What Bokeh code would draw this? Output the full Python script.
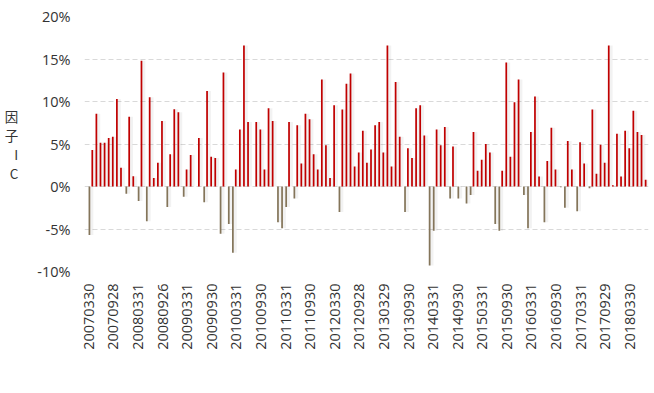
import math
from bokeh.plotting import figure
from bokeh.layouts import column
from bokeh.models import (ColumnDataSource, FixedTicker, PrintfTickFormatter, Range1d,
                          Legend, LegendItem)
from bokeh.embed import file_html
from bokeh.resources import INLINE

# ---- data (monthly IC, in %) ----
tick_labels = ["20070330", "20070928", "20080331", "20080926", "20090331", "20090930",
               "20100331", "20100930", "20110331", "20110930", "20120330", "20120928",
               "20130329", "20130930", "20140331", "20140930", "20150331", "20150930",
               "20160331", "20160930", "20170331", "20170929", "20180330"]

ic = [-5.7, 4.3, 8.55, 5.15, 5.15, 5.7, 5.86, 10.3, 2.2, -0.86,
      8.2, 1.2, -1.7, 14.8, -4.1, 10.5, 1.0, 2.8, 7.7, -2.4,
      3.8, 9.1, 8.75, -1.2, 2.0, 3.7, 0.0, 5.7, -1.84, 11.25,
      3.5, 3.36, -5.55, 13.4, -4.4, -7.8, 2.0, 6.7, 16.6, 7.6,
      0.0, 7.6, 6.7, 2.0, 9.2, 7.7, -4.2, -4.9, -2.4, 7.6,
      -1.4, 7.2, 2.7, 8.55, 7.9, 3.8, 2.0, 12.6, 4.84, 1.0,
      9.57, -3.0, 9.06, 12.1, 13.3, 2.34, 4.0, 6.56, 2.8, 4.34,
      7.2, 7.6, 4.0, 16.6, 2.34, 12.3, 5.86, -3.0, 4.5, 3.36,
      9.2, 9.57, 6.0, -9.3, -5.2, 6.7, 4.84, 7.0, -1.4, 4.7,
      -1.4, 0.0, -2.0, -1.0, 6.4, 1.84, 3.16, 5.0, 4.0, -4.4,
      -5.2, 1.84, 14.6, 3.5, 9.9, 12.6, -1.0, -4.9, 6.4, 10.6,
      1.17, -4.2, 3.0, 6.9, 2.0, -0.1, -2.5, 5.35, 2.0, -2.9,
      5.2, 2.7, -0.2, 9.06, 1.5, 4.9, 2.8, 16.6, 0.16, 6.2,
      1.17, 6.56, 4.5, 8.9, 6.4, 6.05, 0.8]

y_ticks = [-10, -5, 0, 5, 10, 15, 20]
series_names = ["IC>0", "IC<0"]
series_colors = ["#C00000", "#84755A"]
axis_title = "因子IC"

idx = list(range(len(ic)))
pos = [v if v > 0 else 0.0 for v in ic]
neg = [v if v < 0 else 0.0 for v in ic]

src = ColumnDataSource(dict(
    xr=[i - 0.15 for i in idx],
    xb=[i + 0.15 for i in idx],
    xrs=[i + 0.3 for i in idx],
    xbs=[i + 0.6 for i in idx],
    pos=pos, neg=neg,
    zero=[0.0] * len(idx),
))

font = "Open Sans"
txt = "#333333"
fs = "14.5px"
H = 362

# ---------- main chart ----------
p = figure(width=654, height=H, output_backend="svg", toolbar_location=None,
           x_range=Range1d(-1.05, 136.55), y_range=Range1d(-10, 20),
           min_border_left=84, min_border_right=6, min_border_top=16,
           min_border_bottom=91)
p.outline_line_color = None

# soft shadows
p.vbar(x="xrs", width=1.0, bottom="zero", top="pos", source=src,
       fill_color="#000000", fill_alpha=0.05, line_color=None)
p.vbar(x="xbs", width=1.0, bottom="neg", top="zero", source=src,
       fill_color="#000000", fill_alpha=0.05, line_color=None)

p.vbar(x="xr", width=0.42, bottom="zero", top="pos", source=src,
       fill_color=series_colors[0], line_color=None)
p.vbar(x="xb", width=0.42, bottom="neg", top="zero", source=src,
       fill_color=series_colors[1], line_color=None)

p.yaxis.ticker = FixedTicker(ticks=y_ticks)
p.yaxis.formatter = PrintfTickFormatter(format="%d%%")
p.yaxis.axis_line_color = None
p.yaxis.major_tick_line_color = None
p.yaxis.minor_tick_line_color = None
p.yaxis.major_tick_out = 0
p.yaxis.major_label_standoff = 14
p.yaxis.major_label_text_font = font
p.yaxis.major_label_text_font_size = fs
p.yaxis.major_label_text_color = txt

# vertical (stacked) axis title
p.yaxis.axis_label = "\n".join(list(axis_title))
p.yaxis.axis_label_orientation = "horizontal"
p.yaxis.axis_label_standoff = 16
p.yaxis.axis_label_text_font = "Noto Sans CJK SC"
p.yaxis.axis_label_text_font_size = "13.5px"
p.yaxis.axis_label_text_font_style = "normal"
p.yaxis.axis_label_text_color = txt
p.yaxis.axis_label_text_line_height = 0.95

p.xaxis.ticker = FixedTicker(ticks=[6 * i for i in range(len(tick_labels))])
p.xaxis.major_label_overrides = {6 * i: lab for i, lab in enumerate(tick_labels)}
p.xaxis.major_label_orientation = math.pi / 2
p.xaxis.axis_line_color = None
p.xaxis.major_tick_line_color = None
p.xaxis.minor_tick_line_color = None
p.xaxis.major_tick_out = 0
p.xaxis.major_label_standoff = 12
p.xaxis.major_label_text_font = font
p.xaxis.major_label_text_font_size = fs
p.xaxis.major_label_text_color = txt

p.xgrid.grid_line_color = None
p.ygrid.grid_line_color = "#D9D9D9"
p.ygrid.grid_line_dash = "5 3"
p.ygrid.grid_line_width = 1

# ---------- legend strip ----------
lg = figure(frame_width=654, frame_height=393 - H, output_backend="svg",
            toolbar_location=None, title=None, x_range=Range1d(0, 1), y_range=Range1d(0, 1),
            x_axis_location=None, y_axis_location=None,
            min_border_left=0, min_border_right=0, min_border_top=0, min_border_bottom=0)
lg.outline_line_color = None
lg.grid.visible = False
d_pos = lg.vbar(x=[5], top=[5], bottom=[4], width=0.1,
                fill_color=series_colors[0], line_color=None)
d_neg = lg.vbar(x=[5], top=[5], bottom=[4], width=0.1,
                fill_color=series_colors[1], line_color=None)
legend = Legend(items=[LegendItem(label=series_names[0], renderers=[d_pos]),
                       LegendItem(label=series_names[1], renderers=[d_neg])],
                location=(277, 2), orientation="horizontal",
                border_line_color=None, background_fill_alpha=0,
                padding=0, margin=0, spacing=13, glyph_width=9, glyph_height=9,
                label_standoff=4, label_height=16, label_text_font=font,
                label_text_font_size=fs, label_text_color=txt)
lg.add_layout(legend)

layout = column(p, lg, spacing=0)

open("out.html", "w").write(file_html(layout, INLINE))
